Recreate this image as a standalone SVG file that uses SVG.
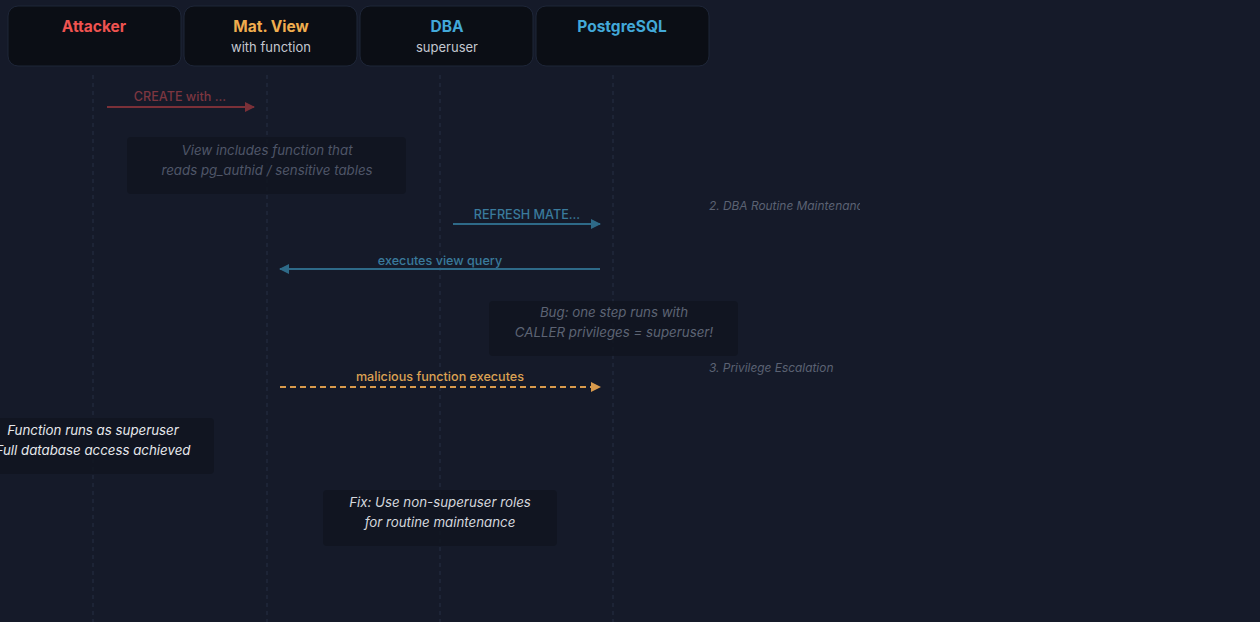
<svg xmlns="http://www.w3.org/2000/svg" width="1260" height="622" viewBox="0 0 1260 622">
<style>
text{font-family:Inter,"Liberation Sans",sans-serif}
.hdr{fill:#0b0e15;stroke:#1e2638;stroke-width:1}
.t{font-size:15.5px;font-weight:700;text-anchor:middle}
.st{font-size:13px;fill:#c4c8d0;text-anchor:middle}
.life{stroke:#232c40;stroke-width:1.2;stroke-dasharray:4 4}
.note{fill:#111520;opacity:0.85}
.nt{font-size:13.3px;font-style:italic;text-anchor:middle}
.lbl{font-size:12.6px;font-weight:500;text-anchor:middle}
.phase{font-size:11.9px;font-style:italic;fill:#5b6273}
</style>
<defs>
<marker id="arR" viewBox="0 0 10 10" refX="9" refY="5" markerWidth="10" markerHeight="10" markerUnits="userSpaceOnUse" orient="auto"><path d="M0,0 L10,5 L0,10 z" fill="#7a3038"/></marker>
<marker id="arB" viewBox="0 0 10 10" refX="9" refY="5" markerWidth="10" markerHeight="10" markerUnits="userSpaceOnUse" orient="auto"><path d="M0,0 L10,5 L0,10 z" fill="#2e6a88"/></marker>
<marker id="arO" viewBox="0 0 10 10" refX="9" refY="5" markerWidth="10" markerHeight="10" markerUnits="userSpaceOnUse" orient="auto"><path d="M0,0 L10,5 L0,10 z" fill="#d89a4c"/></marker>
<clipPath id="clipPhase"><rect x="700" y="190" width="160" height="30"/></clipPath>
</defs>
<rect width="1260" height="622" fill="#151a29"/>

<g id="lifelines">
<line class="life" x1="93" y1="75" x2="93" y2="622"/>
<line class="life" x1="267" y1="75" x2="267" y2="622"/>
<line class="life" x1="440" y1="75" x2="440" y2="622"/>
<line class="life" x1="613" y1="75" x2="613" y2="622"/>
</g>

<g id="attacker">
<rect class="hdr" x="8" y="6" width="173" height="60" rx="10"/>
<text class="t" x="94" y="32" fill="#ef5350">Attacker</text>
</g>
<g id="matview">
<rect class="hdr" x="184" y="6" width="173" height="60" rx="10"/>
<text class="t" x="271" y="32" fill="#f0ad4e">Mat. View</text>
<text class="st" x="271" y="52">with function</text>
</g>
<g id="dba">
<rect class="hdr" x="360" y="6" width="173" height="60" rx="10"/>
<text class="t" x="447" y="32" fill="#42a8d8">DBA</text>
<text class="st" x="447" y="52">superuser</text>
</g>
<g id="postgres">
<rect class="hdr" x="536" y="6" width="173" height="60" rx="10"/>
<text class="t" x="622" y="32" fill="#42a8d8">PostgreSQL</text>
</g>

<g id="note1">
<rect class="note" x="127" y="137" width="279" height="57" rx="4"/>
<text class="nt" x="267" y="155" fill="#4f5668">View includes function that</text>
<text class="nt" x="267" y="175" fill="#4f5668">reads pg_authid / sensitive tables</text>
</g>
<g id="note2">
<rect class="note" x="489" y="301" width="249" height="55" rx="4"/>
<text class="nt" x="614" y="317" fill="#5d6474">Bug: one step runs with</text>
<text class="nt" x="614" y="337" fill="#5d6474">CALLER privileges = superuser!</text>
</g>
<g id="note3">
<rect class="note" x="-28" y="418" width="242" height="56" rx="4"/>
<text class="nt" x="93" y="435" fill="#e6e8ec">Function runs as superuser</text>
<text class="nt" x="93" y="455" fill="#e6e8ec">Full database access achieved</text>
</g>
<g id="note4">
<rect class="note" x="323" y="490" width="234" height="56" rx="4"/>
<text class="nt" x="440" y="507" fill="#d4d7dd">Fix: Use non-superuser roles</text>
<text class="nt" x="440" y="527" fill="#d4d7dd">for routine maintenance</text>
</g>

<g id="phases">
<text class="phase" x="709" y="210" clip-path="url(#clipPhase)">2. DBA Routine Maintenance</text>
<text class="phase" x="709" y="372">3. Privilege Escalation</text>
</g>

<g id="connectors">
<line x1="107" y1="107" x2="254" y2="107" stroke="#7a3038" stroke-width="2" marker-end="url(#arR)"/>
<text class="lbl" x="180" y="101" fill="#7d3640">CREATE with ...</text>
<line x1="453" y1="224" x2="600" y2="224" stroke="#2e6a88" stroke-width="2" marker-end="url(#arB)"/>
<text class="lbl" x="527" y="219" fill="#3a7a9c">REFRESH MATE...</text>
<line x1="600" y1="269" x2="280" y2="269" stroke="#2e6a88" stroke-width="2" marker-end="url(#arB)"/>
<text class="lbl" x="440" y="265" fill="#3a7a9c">executes view query</text>
<line x1="280" y1="387" x2="600" y2="387" stroke="#d89a4c" stroke-width="2" stroke-dasharray="6 4" marker-end="url(#arO)"/>
<text class="lbl" x="440" y="381" fill="#dca253" font-weight="600">malicious function executes</text>
</g>
</svg>
